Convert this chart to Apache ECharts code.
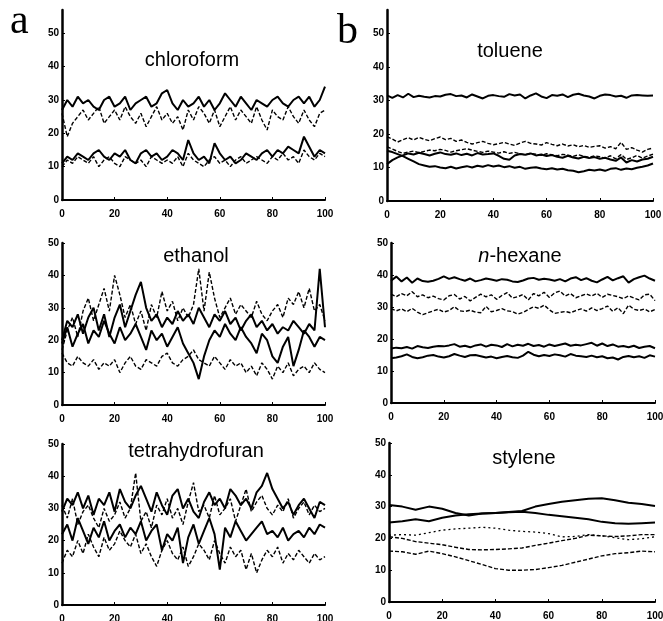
<!DOCTYPE html>
<html lang="en">
<head>
<meta charset="UTF-8">
<title>solvent response traces</title>
<style type="text/css">
  html, body { margin: 0; padding: 0; background: #fff; }
  #main { width: 663px; height: 621px; }
</style>
</head>
<body>
<div id="main"></div>
<script type="text/javascript" src="https://cdn.jsdelivr.net/npm/echarts@6.0.0/dist/echarts.min.js"></script>
<script type="text/javascript">
// x positions of the traces
var xSteps = [0,2,4,6,8,10,12,14,16,18,20,22,24,26,28,30,32,34,36,38,40,42,44,46,48,50,
  52,54,56,58,60,62,64,66,68,70,72,74,76,78,80,82,84,86,88,90,92,94,96,98,100];
var xSmooth = [0,5,10,15,20,25,30,35,40,45,50,55,60,65,70,75,80,85,90,95,100];
var xTicks = ['0', '20', '40', '60', '80', '100'];
var yTicks = ['0', '10', '20', '30', '40', '50'];

// chloroform
var chlA = [27,30,28,31,29,30,28,27,30,31, 28,29,31,27,29,30,31,28,29,32, 33,29,27,30,28,29,31,28,30,27,
  29,32,30,28,31,29,27,30,29,28, 30,31,29,28,30,31,29,31,28,30, 34];
var chlB = [26,19,23,25,27,24,26,28,23,25, 27,24,28,25,23,26,22,25,28,24, 26,23,25,21,27,24,28,26,23,27,
  22,25,28,24,27,25,23,28,24,21, 27,25,24,28,25,23,27,24,22,26, 27];
var chlC = [11,13,12,14,13,12,14,15,13,12, 14,13,15,12,11,14,15,13,14,12, 13,15,14,12,18,14,12,13,11,17,
  14,12,13,11,12,14,13,12,14,15, 13,15,14,16,15,14,19,16,13,15, 14];
var chlD = [10,12,11,13,12,11,13,10,12,13, 11,10,13,12,11,12,10,13,12,11, 12,11,13,10,14,12,11,10,12,13,
  11,12,10,12,13,11,12,13,12,11, 13,12,14,12,13,11,15,13,12,14, 13];

// toluene
var tolA = [31.5,30.8,31.6,30.9,32.0,31.0,31.4,31.1,30.9,31.3, 31.2,31.7,31.9,31.3,31.5,30.9,31.8,31.2,30.6,31.4,
  31.6,31.3,31.1,31.9,31.5,31.8,30.6,31.5,32.1,31.2, 30.7,31.6,31.4,31.8,31.0,31.7,32.0,31.5,31.2,30.6,
  31.4,31.8,31.6,31.2,31.4,30.8,31.5,31.6,31.5,31.4, 31.5];
var tolB = [19.2,18.5,17.6,18.3,18.9,18.2,19.0,18.4,18.0,18.6, 19.1,18.3,18.7,17.8,18.2,17.5,17.0,17.4,17.8,17.2,
  16.8,17.1,17.5,17.0,16.6,17.3,17.8,17.2,17.0,16.7, 17.4,16.9,16.5,17.0,16.4,16.8,16.2,16.6,16.0,16.3,
  16.5,15.8,16.2,15.6,17.5,15.4,15.9,15.2,14.6,15.4, 15.8];
var tolC = [16.2,15.5,14.8,14.2,14.6,14.9,14.4,14.8,15.2,15.0, 15.4,15.1,14.6,15.0,15.3,15.6,15.2,14.8,14.5,14.9,
  14.6,14.3,14.7,14.2,14.5,14.1,13.8,14.2,14.0,13.6, 14.1,13.8,13.5,13.9,13.7,13.3,13.8,13.4,13.0,13.5,
  13.2,12.8,13.5,12.6,13.9,12.4,12.9,13.6,12.8,13.4, 14.0];
var tolD = [11.0,12.2,13.0,13.6,14.2,13.9,14.4,14.0,13.6,14.1, 14.5,14.0,13.8,14.2,13.7,14.1,13.6,14.3,13.9,14.0,
  14.2,13.5,12.6,12.3,13.6,14.0,13.8,14.2,13.6,13.9, 13.4,13.7,13.2,12.9,13.5,13.0,12.7,13.2,12.8,13.1,
  12.6,12.9,12.4,12.0,13.0,11.5,12.2,11.8,12.4,12.6, 13.2];
var tolE = [15.0,14.6,14.0,13.4,12.6,11.8,11.0,10.6,10.2,10.4, 10.0,9.8,10.2,9.7,10.1,10.4,10.0,10.5,10.2,10.7,
  10.3,10.6,10.1,10.4,9.9,10.2,9.6,9.9,10.1,9.7, 9.5,9.8,9.4,9.6,9.2,9.0,8.6,8.9,9.3,9.1,
  9.4,9.0,9.6,9.8,9.3,9.7,9.5,9.9,10.2,10.6, 11.2];

// ethanol
var ethA = [20,26,24,28,22,27,30,23,28,21, 27,31,24,29,34,38,30,26,28,24, 27,25,29,26,28,25,30,27,24,28,
  26,29,25,27,23,26,28,24,26,23, 25,22,24,23,26,24,22,25,23,42, 24];
var ethB = [17,23,27,21,29,33,26,31,36,29, 40,34,27,31,25,29,23,31,27,35, 29,32,26,30,27,31,42,29,41,33,
  27,30,33,28,31,29,27,32,28,26, 29,31,27,33,31,35,30,36,29,31, 26];
var ethC = [19,24,18,22,25,19,23,21,26,22, 19,24,20,22,25,21,17,23,20,22, 18,21,24,19,16,13,8,15,20,23,
  21,25,22,20,24,21,19,16,22,20, 15,13,18,21,12,17,23,21,18,21, 20];
var ethD = [16,13,12,15,13,12,14,11,13,12, 14,10,13,15,12,11,14,13,12,15, 16,13,12,14,15,17,14,13,12,15,
  13,11,14,12,13,10,12,9,13,11, 8,12,10,13,9,11,12,10,13,11, 10];

// n-hexane
var hexA = [38.2,39.5,38.0,39.2,37.6,38.9,38.1,37.9,38.2,38.8, 39.6,38.8,39.3,38.7,38.2,38.9,38.0,38.4,38.9,38.6,
  38.2,38.7,38.5,38.0,37.8,38.3,38.9,39.1,38.5,38.8, 38.6,38.2,38.7,38.0,38.9,39.3,38.4,39.0,38.2,37.7,
  38.6,39.4,38.3,39.0,39.6,37.6,38.7,39.3,39.8,38.9, 38.2];
var hexB = [34.0,33.2,34.2,33.5,34.8,33.2,33.8,32.9,33.4,32.6, 32.2,33.5,33.9,32.5,33.3,31.9,33.0,34.0,33.2,33.8,
  32.4,33.6,34.5,32.8,33.2,33.9,32.2,34.2,33.5,34.6, 33.0,34.4,35.0,33.4,34.2,32.9,33.5,34.1,33.4,34.3,
  33.0,34.0,33.6,33.2,32.6,33.5,32.8,32.2,33.8,34.0, 32.0];
var hexC = [29.5,28.8,29.4,28.5,29.6,28.4,27.6,28.2,28.8,29.3, 28.4,28.9,30.1,28.8,28.6,29.0,28.4,28.2,30.2,28.5,
  28.9,29.5,28.8,28.6,27.8,28.3,29.2,30.1,29.6,30.6, 29.1,28.0,28.3,28.6,28.2,28.9,29.4,28.7,29.7,28.9,
  29.5,30.3,28.6,29.8,27.9,30.6,29.3,28.9,29.4,28.5, 29.2];
var hexD = [17.0,17.3,17.1,17.5,17.0,17.8,17.4,17.2,17.6,17.8, 17.7,18.0,18.4,17.6,17.9,17.4,18.0,18.3,17.6,18.2,
  18.0,17.5,18.4,17.7,18.2,17.9,18.5,17.8,18.1,17.6, 18.3,17.8,18.2,18.6,17.9,18.2,18.0,18.4,18.8,17.9,
  18.6,17.8,18.3,17.6,17.8,17.4,17.9,17.2,17.6,17.8, 17.1];
var hexE = [14.0,14.2,14.6,15.2,14.4,14.0,14.3,14.8,15.0,14.5, 14.2,14.6,15.3,14.8,14.4,14.9,15.0,14.6,14.2,14.5,
  14.0,14.4,14.7,14.3,14.1,14.8,16.0,15.1,14.6,15.0, 14.7,15.2,14.9,14.5,15.3,14.8,14.6,14.4,14.8,14.3,
  14.6,14.0,14.2,13.6,14.4,14.7,14.3,14.6,14.1,14.9, 14.5];

// tetrahydrofuran
var thfA = [29,33,31,35,30,34,28,33,31,35, 29,36,32,30,34,37,33,29,35,31, 28,34,36,30,33,29,27,32,35,31,
  33,30,36,34,31,33,30,35,37,41, 36,33,30,32,28,31,33,30,27,32, 31];
var thfB = [22,25,20,27,23,19,24,21,26,20, 23,25,21,24,22,26,20,23,25,17, 22,20,24,13,21,25,19,23,27,22,
  11,24,21,26,23,20,22,24,26,22, 23,21,24,20,22,23,21,24,22,25, 24];
var thfC = [13,17,15,20,16,22,18,15,21,17, 19,23,20,18,22,16,19,15,12,17, 20,16,14,18,12,15,19,17,14,20,
  16,13,18,15,17,11,16,10,14,17, 15,18,13,16,14,17,15,13,16,14, 15];
var thfD = [31,27,33,25,29,31,27,24,30,26, 28,32,27,30,41,26,29,24,31,28, 33,27,30,25,32,38,29,31,27,34,
  28,30,33,26,31,36,29,32,34,30, 28,31,29,33,27,30,32,28,31,29, 30];

// stylene
var styA = [30.5,30.0,29.0,30.0,29.3,28.0,27.2,27.8,28.0,28.3,28.6,30.0,30.8,31.5,32.0,32.5,32.6,32.0,31.2,30.8,30.2];
var styB = [25.0,25.4,26.0,25.4,26.5,27.2,27.6,27.8,28.0,28.2,28.4,28.0,27.4,27.0,26.5,26.0,25.2,24.8,24.6,24.8,25.0];
var styC = [21.0,21.2,21.0,21.8,22.6,23.0,23.2,23.5,23.2,22.6,22.2,22.0,21.5,20.5,20.6,21.2,20.8,20.2,19.6,19.9,20.5];
var styD = [20.5,20.0,19.0,18.5,18.0,17.2,16.5,16.4,16.5,16.7,17.0,17.8,18.5,19.3,20.0,21.0,20.8,20.6,20.8,21.2,21.2];
var styE = [16.0,15.8,15.0,16.0,15.2,14.2,13.0,11.8,10.5,10.0,10.0,10.2,10.8,11.5,12.5,13.5,14.5,15.2,15.5,16.0,15.8];

function pairs(xs, ys) {
  return ys.map(function (v, i) { return [xs[i], v]; });
}

var SOLID = { type: 'solid', width: 2 };
var DASH = { type: [4, 2], width: 1.4 };
var DOT = { type: [2, 3], width: 1.3 };

// one entry per small plot
var panels = [
  { title: 'chloroform', grid: { left: 62, top: 10, width: 263, height: 190 }, ymax: 57, tx: 192, ty: 50,
    lines: [[xSteps, chlB, DASH], [xSteps, chlA, SOLID], [xSteps, chlD, DASH], [xSteps, chlC, SOLID]] },
  { title: 'toluene', grid: { left: 387, top: 10, width: 266, height: 191 }, ymax: 57, tx: 510, ty: 41,
    lines: [[xSteps, tolA, SOLID], [xSteps, tolB, DASH], [xSteps, tolC, DASH], [xSteps, tolD, SOLID], [xSteps, tolE, SOLID]] },
  { title: 'ethanol', grid: { left: 62, top: 243, width: 263, height: 162 }, ymax: 50, tx: 196, ty: 246,
    lines: [[xSteps, ethB, DASH], [xSteps, ethD, DASH], [xSteps, ethC, SOLID], [xSteps, ethA, SOLID]] },
  { title: '{i|n}-hexane', grid: { left: 391, top: 243, width: 264, height: 160 }, ymax: 50, tx: 520, ty: 246,
    lines: [[xSteps, hexA, SOLID], [xSteps, hexB, DASH], [xSteps, hexC, DASH], [xSteps, hexD, SOLID], [xSteps, hexE, SOLID]] },
  { title: 'tetrahydrofuran', grid: { left: 62, top: 444, width: 263, height: 161 }, ymax: 50, tx: 196, ty: 441,
    lines: [[xSteps, thfD, DASH], [xSteps, thfC, DASH], [xSteps, thfB, SOLID], [xSteps, thfA, SOLID]] },
  { title: 'stylene', grid: { left: 389, top: 443, width: 266, height: 159 }, ymax: 50, tx: 524, ty: 448,
    lines: [[xSmooth, styA, SOLID], [xSmooth, styB, SOLID], [xSmooth, styC, DOT], [xSmooth, styD, DASH], [xSmooth, styE, DASH]] }
];

var tickFont = { fontSize: 10, fontWeight: 'bold', fontFamily: 'Liberation Sans', color: '#000' };

var option = {
  animation: false,
  backgroundColor: '#fff',
  title: [
    { text: 'a', left: 10, top: 1, padding: 0,
      textStyle: { fontSize: 42, fontWeight: 'normal', fontFamily: 'Liberation Serif', color: '#000' } },
    { text: 'b', left: 337, top: 11, padding: 0,
      textStyle: { fontSize: 42, fontWeight: 'normal', fontFamily: 'Liberation Serif', color: '#000' } }
  ],
  grid: [],
  xAxis: [],
  yAxis: [],
  series: []
};

panels.forEach(function (p, k) {
  option.title.push({
    text: p.title, left: p.tx, top: p.ty, textAlign: 'center', padding: 0,
    textStyle: { fontSize: 20, fontWeight: 'normal', fontFamily: 'Liberation Sans', color: '#000',
      rich: { i: { fontSize: 20, fontStyle: 'italic', fontFamily: 'Liberation Sans', color: '#000' } } }
  });
  var g = Object.assign({ outerBoundsMode: 'none', containLabel: false }, p.grid);
  option.grid.push(g);
  option.xAxis.push({
    type: 'value', gridIndex: k, min: 0, max: 100, interval: 20,
    axisLine: { lineStyle: { color: '#000', width: 2 } },
    axisTick: { show: true, inside: true, length: 3, lineStyle: { color: '#000' } },
    splitLine: { show: false },
    axisLabel: Object.assign({ margin: 9, formatter: function (v) { return xTicks.indexOf(String(v)) >= 0 ? v : ''; } }, tickFont)
  });
  option.yAxis.push({
    type: 'value', gridIndex: k, min: 0, max: p.ymax, interval: 10,
    axisLine: { show: true, lineStyle: { color: '#000', width: 2.5 } },
    axisTick: { show: true, inside: true, length: 3, lineStyle: { color: '#000' } },
    splitLine: { show: false },
    axisLabel: Object.assign({ margin: 3, showMaxLabel: p.ymax === 50,
      formatter: function (v) { return yTicks.indexOf(String(v)) >= 0 ? v : ''; } }, tickFont)
  });
  p.lines.forEach(function (ln) {
    option.series.push({
      type: 'line', xAxisIndex: k, yAxisIndex: k,
      data: pairs(ln[0], ln[1]),
      showSymbol: false, symbol: 'none',
      lineStyle: Object.assign({ color: '#000' }, ln[2])
    });
  });
});

var myChart = echarts.init(document.getElementById('main'));
myChart.setOption(option);
</script>
</body>
</html>
